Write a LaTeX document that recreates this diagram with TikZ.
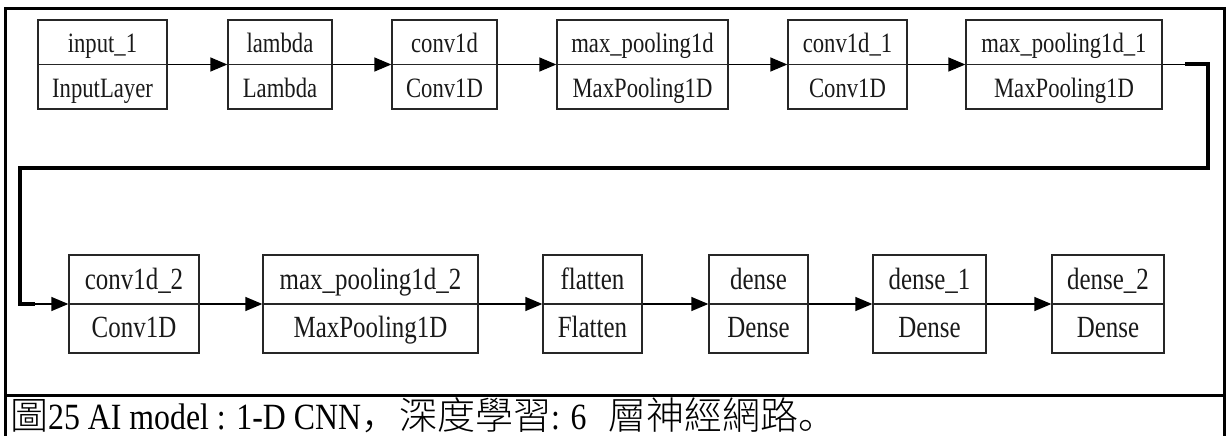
\documentclass[tikz,border=0pt]{standalone}
\usepackage{fontspec}
\setmainfont{Liberation Serif}
\newfontfamily\narrowfont[FakeStretch=0.81]{Liberation Serif}
\newfontfamily\capfont[FakeStretch=0.86]{Liberation Serif}
\newfontfamily\cjkfont{Noto Sans CJK TC Light}
\newfontfamily\cjkpunct{Noto Sans CJK SC Light}
\usetikzlibrary{arrows.meta}

\begin{document}
\begin{tikzpicture}[x=1pt,y=-1pt,
	layer/.style={draw=black!85,line width=1.3pt,inner sep=0pt},
	split/.style={draw=black!85,line width=1.3pt},
	lbl/.style={anchor=base,inner sep=0pt,text=black!90},
	wire/.style={draw=black,line width=1.3pt},
	link/.style={wire,-{Triangle[length=17pt,width=14pt]}},
	jumper/.style={draw=black,line width=4pt},
	frame/.style={draw=black,line width=3pt,line cap=rect}]
	\useasboundingbox (0,0) rectangle (1227,436);
	\def\fa{\narrowfont\fontsize{28}{32}\selectfont}
	\def\fb{\narrowfont\fontsize{30.8}{34}\selectfont}

	\foreach \nm/\cx/\w/\up/\lo in {inp/102.5/129/input\_1/InputLayer,lam/280/104/lambda/Lambda,cnv/444.5/105/conv1d/Conv1D,mxp/642.5/171/max\_pooling1d/MaxPooling1D,cnva/847.5/119/conv1d\_1/Conv1D,mxpa/1064/196/max\_pooling1d\_1/MaxPooling1D}{
		\node[layer,minimum width=\w pt,minimum height=89pt] (\nm) at (\cx,64.5) {};
		\draw[split] (\nm.west) -- (\nm.east);
		\node[lbl,font=\fa] (\nm-up) at (\cx,53) {\up};
		\node[lbl,font=\fa] (\nm-lo) at (\cx,97) {\lo};
	}
	\foreach \nm/\cx/\w/\up/\lo in {cnvb/134/130/conv1d\_2/Conv1D,mxpb/370.5/215/max\_pooling1d\_2/MaxPooling1D,flat/592.5/99/flatten/Flatten,dns/758.5/99/dense/Dense,dnsa/929.5/113/dense\_1/Dense,dnsb/1108/112/dense\_2/Dense}{
		\node[layer,minimum width=\w pt,minimum height=98pt] (\nm) at (\cx,304) {};
		\draw[split] (\nm.west) -- (\nm.east);
		\node[lbl,font=\fb] (\nm-up) at (\cx,289.5) {\up};
		\node[lbl,font=\fb] (\nm-lo) at (\cx,337.5) {\lo};
	}

	\foreach \a/\b in {inp/lam,lam/cnv,cnv/mxp,mxp/cnva,cnva/mxpa,cnvb/mxpb,mxpb/flat,flat/dns,dns/dnsa,dnsa/dnsb}
		\draw[link] (\a.east) -- (\b.west);

	\coordinate (ta) at (1185,64.5);
	\coordinate (tb) at (1208,168);
	\coordinate (tc) at (20,304);
	\coordinate (td) at (35,304);
	\draw[wire] (mxpa.east) -- (ta);
	\draw[jumper] (ta) -| (tb) -| (tc) -- (td);
	\draw[link] (td) -- (cnvb.west);

	\draw[frame] (5.5,436) -- (5.5,8.5) -- (1224.5,8.5) -- (1224.5,436);
	\draw[frame] (5.5,395) -- (1224.5,395);

	\node[anchor=base west,inner sep=0pt,font=\capfont\fontsize{37}{40}\selectfont] (cap) at (10,429) {{\cjkfont\fontsize{38}{40}\selectfont 圖}25 AI model : 1-D CNN{\cjkpunct\fontsize{38}{40}\selectfont ，}{\cjkfont\fontsize{38}{40}\selectfont 深度學習}: 6\hspace{22pt}{\cjkfont\fontsize{38}{40}\selectfont 層神經網路}{\cjkpunct\fontsize{38}{40}\selectfont 。}};
\end{tikzpicture}
\end{document}
